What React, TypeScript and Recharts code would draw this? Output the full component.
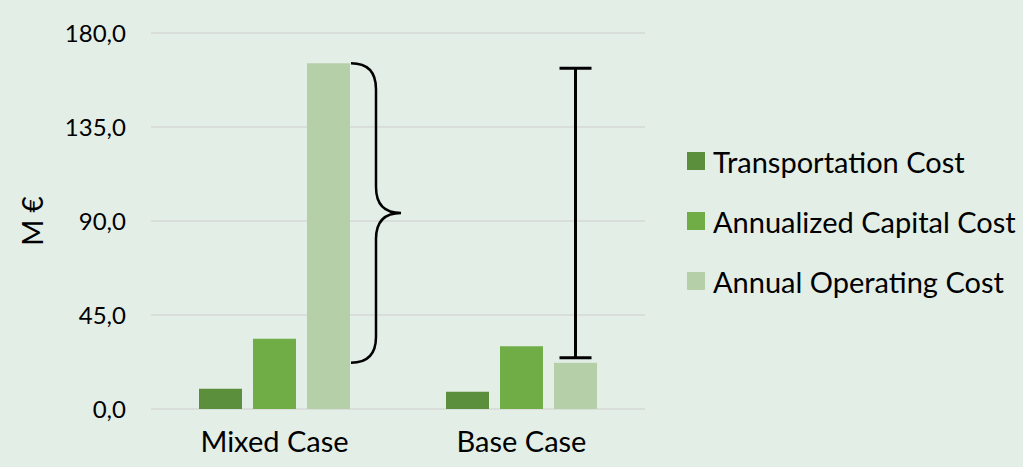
import { BarChart, Bar, XAxis, YAxis, CartesianGrid, Legend } from "recharts"

const categories = ["Mixed Case", "Base Case"]
const seriesNames = ["Transportation Cost", "Annualized Capital Cost", "Annual Operating Cost"]
const transportation = [9.7, 8.2]
const capital = [33.6, 30.0]
const operating = [165.5, 22.1]
// span drawn next to the operating bar (brace for Mixed, I-beam for Base)
const spanLow = [22.1, 24.5]
const spanHigh = [165.5, 163.1]
const yTicks = [0, 45, 90, 135, 180]

const data = categories.map((name, i) => ({
  name,
  transportation: transportation[i],
  capital: capital[i],
  operating: operating[i],
  spanLow: spanLow[i],
  spanHigh: spanHigh[i],
}))

const font = "Lato, 'Open Sans', sans-serif"

function OperatingShape(props: any) {
  const { x, y, width, height, payload, index, fill } = props
  const base = y + height
  const perUnit = height / payload.operating
  const py = (v: number) => base - v * perUnit
  const top = py(payload.spanHigh)
  const bot = py(payload.spanLow)
  let mark = null
  if (index === 0) {
    const x0 = x + width + 1
    const x1 = x0 + 25
    const x2 = x0 + 50
    const mid = (top + bot) / 2
    const r = 26
    const d = `M${x0},${top} Q${x1},${top} ${x1},${top + r} L${x1},${mid - r} Q${x1},${mid} ${x2},${mid} Q${x1},${mid} ${x1},${mid + r} L${x1},${bot - r} Q${x1},${bot} ${x0},${bot}`
    mark = <path d={d} fill="none" stroke="#000" strokeWidth={2.5} />
  } else {
    const cx = x + width / 2
    mark = (
      <g stroke="#000" strokeWidth={3}>
        <line x1={cx} y1={top} x2={cx} y2={bot} />
        <line x1={cx - 16} y1={top} x2={cx + 16} y2={top} />
        <line x1={cx - 16} y1={bot} x2={cx + 16} y2={bot} />
      </g>
    )
  }
  return (
    <g>
      <rect x={x} y={y} width={width} height={height} fill={fill} />
      {mark}
    </g>
  )
}

function LegendContent(props: any) {
  const items = [...(props.payload || [])].sort(
    (a: any, b: any) => seriesNames.indexOf(a.value) - seriesNames.indexOf(b.value)
  )
  return (
    <div style={{ fontFamily: font, fontSize: 29, color: "#000" }}>
      {items.map((p: any) => (
        <div key={p.value} style={{ display: "flex", alignItems: "center", height: 60 }}>
          <span style={{ width: 18, height: 18, background: p.color, marginRight: 8, display: "inline-block" }} />
          <span>{p.value}</span>
        </div>
      ))}
    </div>
  )
}

export default function App() {
  return (
    <div style={{ position: "absolute", left: 0, top: 0, width: 1023, height: 467, background: "#e3eee7" }}>
      <BarChart
        width={1023}
        height={467}
        data={data}
        margin={{ top: 33, right: 378, bottom: 8, left: 0 }}
        barCategoryGap={48}
        barGap={11}
      >
        <CartesianGrid vertical={false} stroke="#d6d9d6" strokeWidth={1.5} />
        <XAxis
          dataKey="name"
          axisLine={false}
          tickLine={false}
          tickSize={0}
          tickMargin={22}
          height={50}
          tick={{ fill: "#000", fontSize: 29, fontFamily: font }}
        />
        <YAxis
          width={151}
          domain={[0, 180]}
          ticks={yTicks}
          axisLine={false}
          tickLine={false}
          tickSize={0}
          tickMargin={25}
          tickFormatter={(v: number) => v.toFixed(1).replace(".", ",")}
          tick={{ fill: "#000", fontSize: 24, fontFamily: font }}
          label={{
            value: "M €",
            angle: -90,
            position: "center",
            dx: -42,
            style: { fill: "#000", fontSize: 28, fontFamily: font, textAnchor: "middle" },
          }}
        />
        <Legend
          layout="vertical"
          align="center"
          verticalAlign="middle"
          wrapperStyle={{ left: 687, top: 131, width: 340 }}
          content={LegendContent}
        />
        <Bar dataKey="transportation" name={seriesNames[0]} fill="#5b8f3b" isAnimationActive={false} />
        <Bar dataKey="capital" name={seriesNames[1]} fill="#70ad47" isAnimationActive={false} />
        <Bar
          dataKey="operating"
          name={seriesNames[2]}
          fill="#b5cfa8"
          isAnimationActive={false}
          shape={OperatingShape}
        />
      </BarChart>
    </div>
  )
}
